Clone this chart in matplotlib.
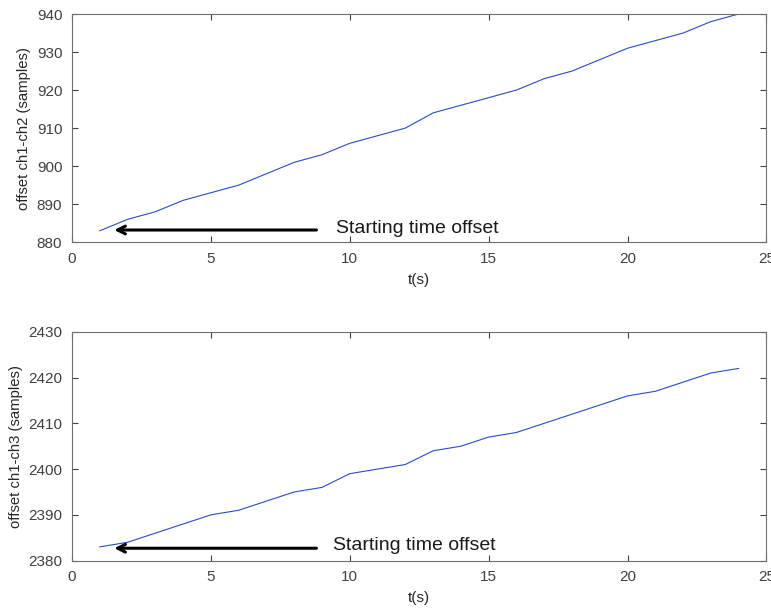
import matplotlib
matplotlib.use("Agg")
import matplotlib.pyplot as plt

plt.rcParams['font.family'] = ['Liberation Sans', 'DejaVu Sans']

t = list(range(1, 25))
off_ch2 = [883, 886, 888, 891, 893, 895, 898, 901, 903, 906, 908, 910,
           914, 916, 918, 920, 923, 925, 928, 931, 933, 935, 938, 940]
off_ch3 = [2383, 2384, 2386, 2388, 2390, 2391, 2393, 2395, 2396, 2399, 2400, 2401,
           2404, 2405, 2407, 2408, 2410, 2412, 2414, 2416, 2417, 2419, 2421, 2422]
ylabels = ["offset ch1-ch2 (samples)", "offset ch1-ch3 (samples)"]
ylims = [(880, 940), (2380, 2430)]
arrow_y = [883.2, 2382.7]
text_xy = [(9.5, 882.3), (9.4, 2382.3)]

fig = plt.figure(figsize=(7.71, 6.10), dpi=100)
ax1 = fig.add_axes([0.0934, 0.603, 0.9006, 0.374])
ax2 = fig.add_axes([0.0934, 0.081, 0.9006, 0.375])

for ax, y, yl, lim, ay, txy in zip([ax1, ax2], [off_ch2, off_ch3], ylabels,
                                  ylims, arrow_y, text_xy):
    ax.plot(t, y, color='#2a4cc4', lw=0.8)
    ax.set_xlim(0, 25)
    ax.set_ylim(*lim)
    ax.set_xticks([0, 5, 10, 15, 20, 25])
    ax.tick_params(direction='in', top=True, right=True, labelsize=11,
                   colors='#404040', length=4, width=0.8, pad=7)
    for s in ax.spines.values():
        s.set_color('#6e6e6e')
        s.set_linewidth(0.8)
    ax.set_xlabel("t(s)", fontsize=11, labelpad=5, color='#262626')
    ax.set_ylabel(yl, fontsize=10.7, labelpad=4, color='#262626')
    ax.annotate("", xy=(1.42, ay), xytext=(8.9, ay),
                arrowprops=dict(arrowstyle='->', color='black', lw=2.2,
                                mutation_scale=14))
    ax.text(txy[0], txy[1], "Starting time offset", fontsize=14,
            va='baseline', color='#1a1a1a')

fig.savefig("out.png", dpi=100)
